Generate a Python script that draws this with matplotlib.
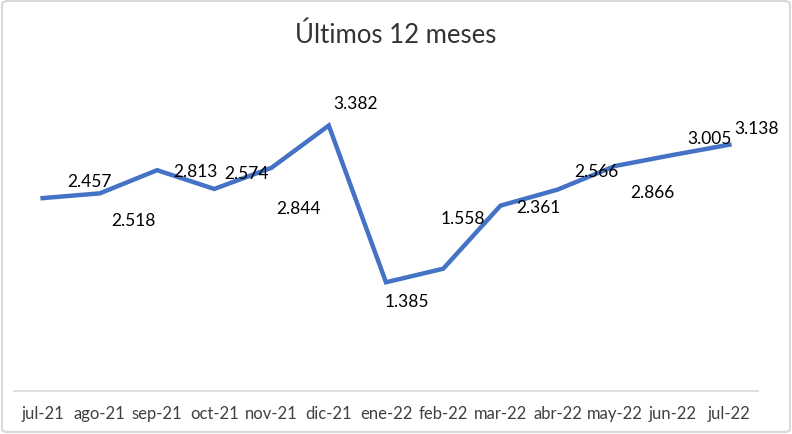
import matplotlib
matplotlib.use("Agg")
import matplotlib.pyplot as plt
from matplotlib.patches import FancyBboxPatch

plt.rcParams['font.family'] = ['Lato', 'DejaVu Sans']

months = ['jul-21', 'ago-21', 'sep-21', 'oct-21', 'nov-21', 'dic-21', 'ene-22',
          'feb-22', 'mar-22', 'abr-22', 'may-22', 'jun-22', 'jul-22']
values = [2.457, 2.518, 2.813, 2.574, 2.844, 3.382, 1.385,
          1.558, 2.361, 2.566, 2.866, 3.005, 3.138]
# label offsets in pixels (dx, dy up)
offsets = [(47, 17), (34, -27), (38, -1), (32, 16), (27, -40), (27, 23), (21, -19),
           (20, 51), (38, -1), (39, 19), (37, -26), (37, 17), (27, 17)]

fig = plt.figure(figsize=(7.92, 4.35), dpi=100)
ax = fig.add_axes([14 / 792, 43 / 435, 744 / 792, 314 / 435])

x = range(len(months))
ax.plot(x, values, color='#4472C4', linewidth=3.2, solid_joinstyle='miter')

for i, v in enumerate(values):
    dx, dy = offsets[i]
    ax.annotate(f'{v:.3f}', (i, v), xytext=(dx, dy), textcoords='offset pixels',
                ha='center', va='center', fontsize=12.5, color='#000000')

ax.set_xlim(-0.5, len(months) - 0.5)
ax.set_ylim(0, 4)
ax.set_xticks(list(x))
ax.set_xticklabels(months, fontsize=12, color='#404040')
ax.tick_params(axis='x', length=0, pad=10)
ax.set_yticks([])
for s in ['top', 'left', 'right']:
    ax.spines[s].set_visible(False)
ax.spines['bottom'].set_color('#d9d9d9')
ax.spines['bottom'].set_linewidth(1.2)

fig.text(0.5, 1 - 35 / 435, 'Últimos 12 meses', ha='center', va='center',
         fontsize=18.5, color='#333333')

border = FancyBboxPatch((2 / 792, 2 / 435), 788 / 792, 431 / 435,
                        boxstyle='round,pad=0,rounding_size=0.008',
                        transform=fig.transFigure, fill=False,
                        edgecolor='#d9d9d9', linewidth=1.5)
fig.patches.append(border)

fig.savefig('out.png', dpi=100)
